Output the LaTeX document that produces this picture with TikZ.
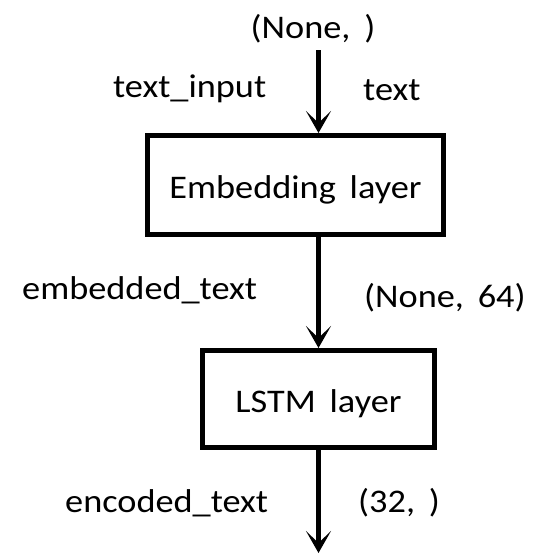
\documentclass[tikz,border=0pt]{standalone}
\usepackage{fontspec}
\setmainfont{Carlito}[FakeStretch=1.1]
\usetikzlibrary{arrows.meta}
\newcommand{\gap}{\hspace{0.42em}}
\tikzset{
  layerbox/.style={draw, line width=5pt, inner sep=0pt, text height=26pt, text depth=0pt},
  flow/.style={line width=5pt, -{Stealth[length=22pt,width=25pt,inset=12pt]}},
  tagleft/.style={inner sep=0pt, anchor=base west},
}
\begin{document}
\begin{tikzpicture}[x=1pt, y=-1pt, font=\fontsize{33}{40}\selectfont]
  \useasboundingbox (0,0) rectangle (541,555);

  % layers
  \node[layerbox, minimum width=296pt, minimum height=99pt] (embed) at (295.5,185) {Embedding\gap layer};
  \node[layerbox, minimum width=232pt, minimum height=97pt] (lstm) at (318.5,399) {LSTM\gap layer};

  % data flow
  \coordinate (in) at (318.5,50);
  \coordinate (out) at (318.5,553);
  \draw[flow] (in) -- (in |- embed.north);
  \draw[flow] (lstm.north |- embed.south) -- (lstm.north);
  \draw[flow] (lstm.south) -- (out);

  % tensor names and shapes
  \node[inner sep=0pt, anchor=base] (inshape) at (313,38) {(None,\gap)};
  \node[tagleft] (inname) at (113,97) {text\_input};
  \node[tagleft] (inlayer) at (363,100) {text};
  \node[tagleft] (embname) at (22,299) {embedded\_text};
  \node[tagleft] (embshape) at (364,307) {(None,\gap 64)};
  \node[tagleft] (encname) at (65,512) {encoded\_text};
  \node[tagleft] (encshape) at (358,512) {(32,\gap)};
\end{tikzpicture}
\end{document}
